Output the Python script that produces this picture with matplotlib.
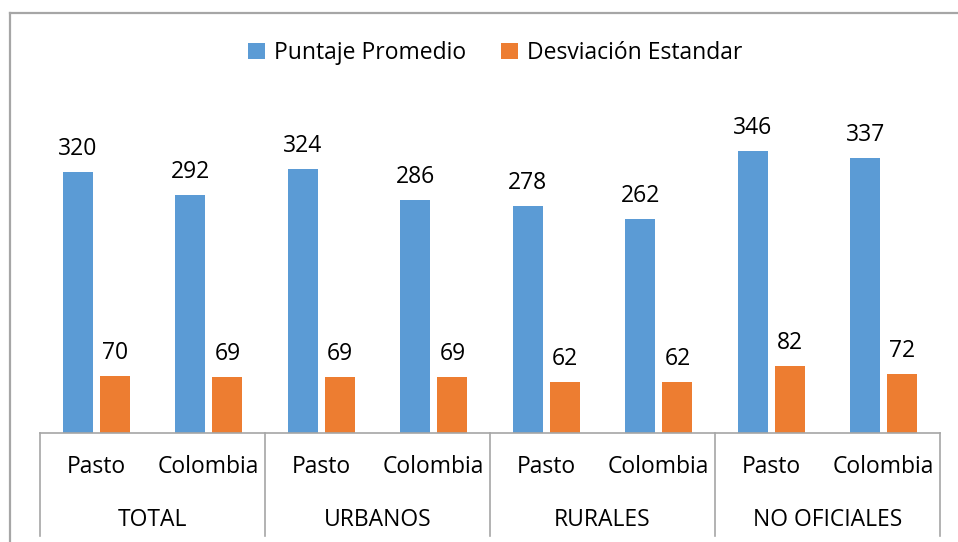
import matplotlib
matplotlib.use("Agg")
import matplotlib.pyplot as plt
from matplotlib.lines import Line2D
import matplotlib.transforms as mtransforms

groups = ["TOTAL", "URBANOS", "RURALES", "NO OFICIALES"]
subcats = ["Pasto", "Colombia"]
series_names = ["Puntaje Promedio", "Desviación Estandar"]
puntaje = [320, 292, 324, 286, 278, 262, 346, 337]
desviacion = [70, 69, 69, 69, 62, 62, 82, 72]
colors = ["#5B9BD5", "#ED7D31"]

plt.rcParams['font.family'] = ['Open Sans', 'DejaVu Sans']

W, H = 958, 542
fig = plt.figure(figsize=(W / 100, H / 100), dpi=100)

# outer chart frame (top & left visible)
frame_c = "#A6A6A6"
fig.add_artist(Line2D([10 / W, 1], [1 - 13 / H, 1 - 13 / H], color=frame_c, lw=1.6))
fig.add_artist(Line2D([10 / W, 10 / W], [0, 1 - 13 / H], color=frame_c, lw=1.6))

ax_l, ax_r, ax_b, ax_t = 40, 940, 433, 30
ax = fig.add_axes([ax_l / W, 1 - ax_b / H, (ax_r - ax_l) / W, (ax_b - ax_t) / H])
px_per_unit = 261 / 320
ax.set_ylim(0, (ax_b - ax_t) / px_per_unit)
n = len(puntaje)
ax.set_xlim(0, n)

width = 0.267
off = 0.166
xs = [i + 0.5 for i in range(n)]
b1 = ax.bar([x - off for x in xs], puntaje, width, color=colors[0], label=series_names[0])
b2 = ax.bar([x + off for x in xs], desviacion, width, color=colors[1], label=series_names[1])

fs = 16.5
for bars, vals in ((b1, puntaje), (b2, desviacion)):
    for rect, v in zip(bars, vals):
        ax.annotate(str(v), (rect.get_x() + rect.get_width() / 2, rect.get_height()),
                    xytext=(0, 8), textcoords="offset points", ha="center", va="bottom",
                    fontsize=fs, color="#000000")

for s in ax.spines.values():
    s.set_visible(False)
ax.set_xticks([])
ax.set_yticks([])
ax.patch.set_alpha(0)

axis_c = "#A6A6A6"
trans = mtransforms.blended_transform_factory(ax.transData, ax.transAxes)
ax.plot([0, n], [0, 0], transform=trans, color=axis_c, lw=1.2, clip_on=False)
axh = ax_b - ax_t
y_sep_bot = (ax_b - 536) / axh
for g in range(len(groups) + 1):
    ax.plot([2 * g, 2 * g], [0, y_sep_bot], transform=trans, color=axis_c, lw=1.2, clip_on=False)

y_sub = (ax_b - 467) / axh
y_grp = (ax_b - 520) / axh
for i, x in enumerate(xs):
    ax.text(x, y_sub, subcats[i % 2], transform=trans, ha="center", va="center", fontsize=fs)
for g, name in enumerate(groups):
    ax.text(2 * g + 1, y_grp, name, transform=trans, ha="center", va="center", fontsize=fs)

leg = fig.legend(handles=[b1, b2], labels=series_names, loc="center",
                 bbox_to_anchor=(495 / W, 1 - 53 / H), ncol=2, frameon=False,
                 fontsize=fs, handlelength=0.75, handleheight=0.75, handletextpad=0.4,
                 columnspacing=1.5)

fig.savefig("out.png", dpi=100)
